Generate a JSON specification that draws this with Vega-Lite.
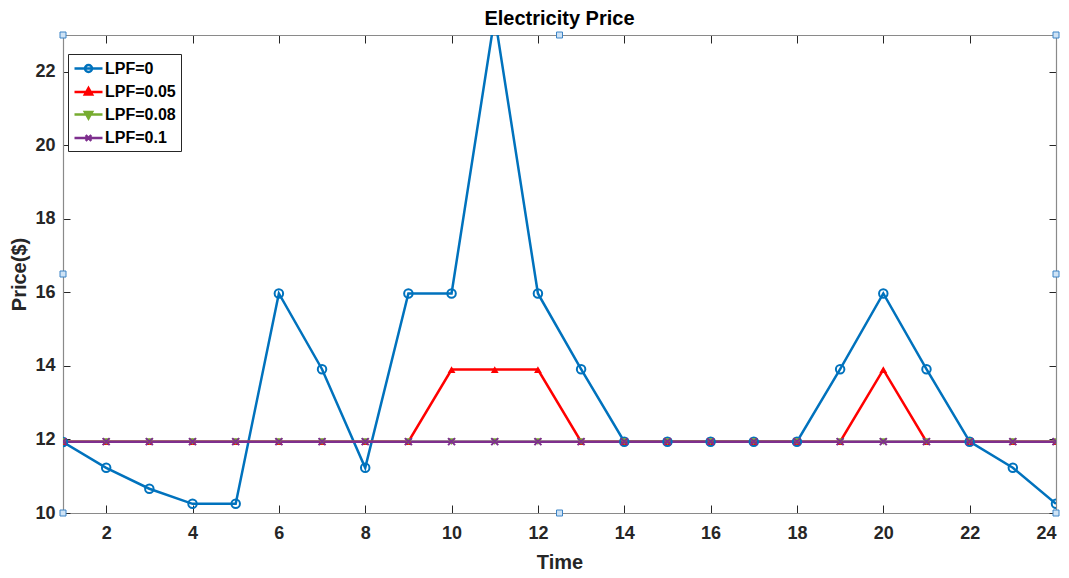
{
  "$schema": "https://vega.github.io/schema/vega-lite/v6.json",
  "autosize": {"type": "none"},
  "width": 993,
  "height": 478,
  "padding": {"left": 63, "top": 35, "right": 13, "bottom": 65},
  "background": "white",
  "config": {
    "font": "Liberation Sans",
    "view": {"stroke": null},
    "axis": {
      "grid": false,
      "domainColor": "#8a8a8a",
      "domainWidth": 1.2,
      "tickColor": "#262626",
      "tickWidth": 1,
      "labelFont": "Liberation Sans",
      "labelFontWeight": "bold",
      "labelFontSize": 18,
      "labelColor": "#262626",
      "titleFont": "Liberation Sans",
      "titleFontWeight": "bold",
      "titleFontSize": 20,
      "titleColor": "#262626"
    }
  },
  "title": {
    "text": "Electricity Price",
    "font": "Liberation Sans",
    "fontSize": 20,
    "fontWeight": "bold",
    "color": "#000000",
    "anchor": "middle",
    "offset": 1
  },
  "datasets": {
    "price": [
      {"t":1,"s":"LPF=0","p":11.93},{"t":2,"s":"LPF=0","p":11.23},{"t":3,"s":"LPF=0","p":10.66},{"t":4,"s":"LPF=0","p":10.25},
      {"t":5,"s":"LPF=0","p":10.25},{"t":6,"s":"LPF=0","p":15.97},{"t":7,"s":"LPF=0","p":13.91},{"t":8,"s":"LPF=0","p":11.23},
      {"t":9,"s":"LPF=0","p":15.97},{"t":10,"s":"LPF=0","p":15.97},{"t":11,"s":"LPF=0","p":23.5},{"t":12,"s":"LPF=0","p":15.97},
      {"t":13,"s":"LPF=0","p":13.91},{"t":14,"s":"LPF=0","p":11.94},{"t":15,"s":"LPF=0","p":11.94},{"t":16,"s":"LPF=0","p":11.94},
      {"t":17,"s":"LPF=0","p":11.94},{"t":18,"s":"LPF=0","p":11.94},{"t":19,"s":"LPF=0","p":13.91},{"t":20,"s":"LPF=0","p":15.97},
      {"t":21,"s":"LPF=0","p":13.91},{"t":22,"s":"LPF=0","p":11.94},{"t":23,"s":"LPF=0","p":11.23},{"t":24,"s":"LPF=0","p":10.25},
      {"t":1,"s":"LPF=0.05","p":11.94},{"t":2,"s":"LPF=0.05","p":11.94},{"t":3,"s":"LPF=0.05","p":11.94},{"t":4,"s":"LPF=0.05","p":11.94},
      {"t":5,"s":"LPF=0.05","p":11.94},{"t":6,"s":"LPF=0.05","p":11.94},{"t":7,"s":"LPF=0.05","p":11.94},{"t":8,"s":"LPF=0.05","p":11.94},
      {"t":9,"s":"LPF=0.05","p":11.94},{"t":10,"s":"LPF=0.05","p":13.9},{"t":11,"s":"LPF=0.05","p":13.9},{"t":12,"s":"LPF=0.05","p":13.9},
      {"t":13,"s":"LPF=0.05","p":11.94},{"t":14,"s":"LPF=0.05","p":11.94},{"t":15,"s":"LPF=0.05","p":11.94},{"t":16,"s":"LPF=0.05","p":11.94},
      {"t":17,"s":"LPF=0.05","p":11.94},{"t":18,"s":"LPF=0.05","p":11.94},{"t":19,"s":"LPF=0.05","p":11.94},{"t":20,"s":"LPF=0.05","p":13.9},
      {"t":21,"s":"LPF=0.05","p":11.94},{"t":22,"s":"LPF=0.05","p":11.94},{"t":23,"s":"LPF=0.05","p":11.94},{"t":24,"s":"LPF=0.05","p":11.94},
      {"t":1,"s":"LPF=0.08","p":11.94},{"t":2,"s":"LPF=0.08","p":11.94},{"t":3,"s":"LPF=0.08","p":11.94},{"t":4,"s":"LPF=0.08","p":11.94},
      {"t":5,"s":"LPF=0.08","p":11.94},{"t":6,"s":"LPF=0.08","p":11.94},{"t":7,"s":"LPF=0.08","p":11.94},{"t":8,"s":"LPF=0.08","p":11.94},
      {"t":9,"s":"LPF=0.08","p":11.94},{"t":10,"s":"LPF=0.08","p":11.94},{"t":11,"s":"LPF=0.08","p":11.94},{"t":12,"s":"LPF=0.08","p":11.94},
      {"t":13,"s":"LPF=0.08","p":11.94},{"t":14,"s":"LPF=0.08","p":11.94},{"t":15,"s":"LPF=0.08","p":11.94},{"t":16,"s":"LPF=0.08","p":11.94},
      {"t":17,"s":"LPF=0.08","p":11.94},{"t":18,"s":"LPF=0.08","p":11.94},{"t":19,"s":"LPF=0.08","p":11.94},{"t":20,"s":"LPF=0.08","p":11.94},
      {"t":21,"s":"LPF=0.08","p":11.94},{"t":22,"s":"LPF=0.08","p":11.94},{"t":23,"s":"LPF=0.08","p":11.94},{"t":24,"s":"LPF=0.08","p":11.94},
      {"t":1,"s":"LPF=0.1","p":11.94},{"t":2,"s":"LPF=0.1","p":11.94},{"t":3,"s":"LPF=0.1","p":11.94},{"t":4,"s":"LPF=0.1","p":11.94},
      {"t":5,"s":"LPF=0.1","p":11.94},{"t":6,"s":"LPF=0.1","p":11.94},{"t":7,"s":"LPF=0.1","p":11.94},{"t":8,"s":"LPF=0.1","p":11.94},
      {"t":9,"s":"LPF=0.1","p":11.94},{"t":10,"s":"LPF=0.1","p":11.94},{"t":11,"s":"LPF=0.1","p":11.94},{"t":12,"s":"LPF=0.1","p":11.94},
      {"t":13,"s":"LPF=0.1","p":11.94},{"t":14,"s":"LPF=0.1","p":11.94},{"t":15,"s":"LPF=0.1","p":11.94},{"t":16,"s":"LPF=0.1","p":11.94},
      {"t":17,"s":"LPF=0.1","p":11.94},{"t":18,"s":"LPF=0.1","p":11.94},{"t":19,"s":"LPF=0.1","p":11.94},{"t":20,"s":"LPF=0.1","p":11.94},
      {"t":21,"s":"LPF=0.1","p":11.94},{"t":22,"s":"LPF=0.1","p":11.94},{"t":23,"s":"LPF=0.1","p":11.94},{"t":24,"s":"LPF=0.1","p":11.94}
    ],
    "handles": [
      {"hx":1,"hy":23},{"hx":1,"hy":16.5},{"hx":1,"hy":10},
      {"hx":12.5,"hy":23},{"hx":12.5,"hy":10},
      {"hx":24,"hy":23},{"hx":24,"hy":16.5},{"hx":24,"hy":10}
    ]
  },
  "layer": [
    {
      "data": {"name": "price"},
      "encoding": {
        "x": {
          "field": "t", "type": "quantitative",
          "scale": {"domain": [1, 24], "nice": false, "zero": false},
          "axis": {"orient": "bottom", "title": "Time", "values": [2,4,6,8,10,12,14,16,18,20,22,24], "tickSize": -8, "labelPadding": 19, "titlePadding": 10}
        },
        "y": {
          "field": "p", "type": "quantitative",
          "scale": {"domain": [10, 23], "nice": false, "zero": false},
          "axis": {"orient": "left", "title": "Price($)", "values": [10,12,14,16,18,20,22], "tickSize": -7, "labelPadding": 15, "titlePadding": 5}
        }
      },
      "layer": [
        {
          "mark": {"type": "line", "strokeWidth": 2.5, "clip": true},
          "encoding": {
            "color": {
              "field": "s", "type": "nominal",
              "scale": {"domain": ["LPF=0","LPF=0.05","LPF=0.08","LPF=0.1"], "range": ["#0072BD","#FF0000","#77AC30","#7E2F8E"]},
              "legend": {
                "title": null,
                "orient": "none",
                "legendX": 5,
                "legendY": 19,
                "strokeColor": "#262626",
                "fillColor": "white",
                "padding": 5,
                "labelFont": "Liberation Sans",
                "labelFontWeight": "bold",
                "labelFontSize": 16,
                "labelColor": "#000000",
                "symbolSize": 256,
                "symbolStrokeWidth": 2.5,
                "rowPadding": 4.5,
                "labelOffset": 13,
                "encode": {
                  "symbols": {
                    "update": {
                      "shape": {"signal": "datum.value === 'LPF=0' ? 'M-1,0H2.5M1.19,0A0.44,0.44 0 1,0 0.31,0A0.44,0.44 0 1,0 1.19,0' : datum.value === 'LPF=0.05' ? 'M-1,0H2.5M0.75,-0.5L1.2,0.3L0.3,0.3Z' : datum.value === 'LPF=0.08' ? 'M-1,0H2.5M0.75,0.5L1.2,-0.3L0.3,-0.3Z' : 'M-1,0H2.5M0.4,-0.35L1.1,0.35M0.4,0.35L1.1,-0.35'"},
                      "fill": {"signal": "datum.value === 'LPF=0' ? 'transparent' : scale('color', datum.value)"}
                    }
                  }
                }
              }
            }
          }
        },
        {
          "transform": [{"filter": "datum.s === 'LPF=0'"}],
          "mark": {"type": "point", "shape": "circle", "size": 72, "strokeWidth": 2, "filled": false, "color": "#0072BD", "opacity": 1, "clip": true}
        },
        {
          "transform": [{"filter": "datum.s === 'LPF=0.05'"}],
          "mark": {"type": "point", "shape": "triangle-up", "size": 60, "filled": true, "color": "#FF0000", "opacity": 1, "clip": true}
        },
        {
          "transform": [{"filter": "datum.s === 'LPF=0.08'"}],
          "mark": {"type": "point", "shape": "triangle-down", "size": 60, "filled": true, "color": "#77AC30", "opacity": 1, "clip": true}
        },
        {
          "transform": [{"filter": "datum.s === 'LPF=0.1'"}],
          "mark": {"type": "point", "shape": "M-1,-1L1,1M-1,1L1,-1", "size": 49, "strokeWidth": 2, "filled": false, "color": "#7E2F8E", "opacity": 1, "clip": true}
        }
      ]
    },
    {
      "data": {"name": "handles"},
      "mark": {"type": "square", "size": 36, "fill": "#cfe3f5", "stroke": "#3d84c6", "strokeWidth": 1, "opacity": 1},
      "encoding": {
        "x": {
          "field": "hx", "type": "quantitative",
          "scale": {"domain": [1, 24], "nice": false, "zero": false},
          "axis": {"orient": "top", "title": null, "labels": false, "values": [2,4,6,8,10,12,14,16,18,20,22,24], "tickSize": -8}
        },
        "y": {
          "field": "hy", "type": "quantitative",
          "scale": {"domain": [10, 23], "nice": false, "zero": false},
          "axis": {"orient": "right", "title": null, "labels": false, "values": [10,12,14,16,18,20,22], "tickSize": -7}
        }
      }
    }
  ],
  "resolve": {"axis": {"x": "independent", "y": "independent"}}
}
